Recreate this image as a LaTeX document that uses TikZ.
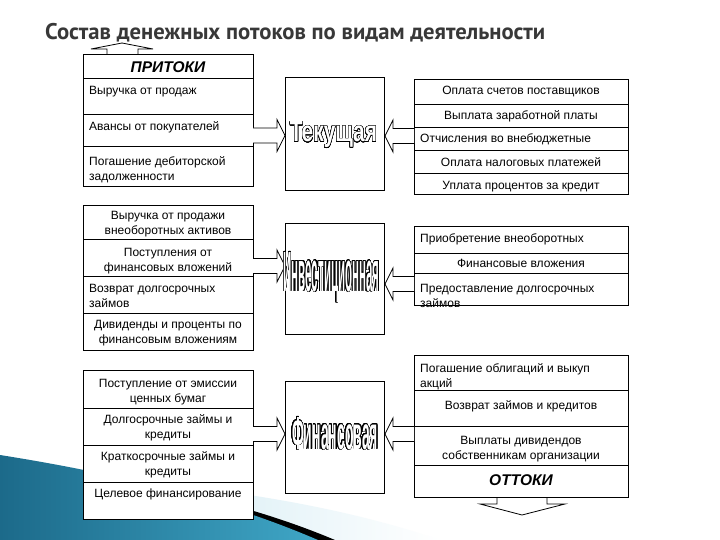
\documentclass[tikz,border=0pt]{standalone}
\usepackage{fontspec}
\setmainfont{Liberation Sans}
\newfontfamily\titlefont{PT Sans}
\usepackage{contour}
\contourlength{0.45pt}
\contournumber{24}
\usetikzlibrary{calc}
\definecolor{teal1}{HTML}{1C6A8A}
\definecolor{teal2}{HTML}{3FA6C6}
\definecolor{lblue}{HTML}{BFE2EE}
\newcommand{\sr}{\rule{0pt}{10pt}}
\newcommand{\outl}[3]{{\color{white}\contour{black}{\resizebox{#1}{#2}{\bfseries #3}}}}
\newcommand{\blkR}[3]{\draw[blk] (#1,{#3-7.5}) -- ({#2-8},{#3-7.5}) -- ({#2-8},{#3-16}) -- (#2,#3) -- ({#2-8},{#3+16}) -- ({#2-8},{#3+7.5}) -- (#1,{#3+7.5});}
\newcommand{\blkL}[3]{\draw[blk] (#1,{#3-7.5}) -- ({#2+8},{#3-7.5}) -- ({#2+8},{#3-16}) -- (#2,#3) -- ({#2+8},{#3+16}) -- ({#2+8},{#3+7.5}) -- (#1,{#3+7.5});}
\tikzset{
  bx/.style={draw, fill=white, line width=0.8pt, inner sep=0pt, anchor=north west},
  lrow/.style={bx, minimum width=170pt},
  rrow/.style={bx, minimum width=214pt},
  mid/.style={bx, minimum width=99pt},
  tl/.style={anchor=north west, inner sep=0pt, align=left, font=\fontsize{12}{15}\selectfont},
  tc/.style={anchor=north, inner sep=0pt, align=center, font=\fontsize{12}{15}\selectfont},
  hd/.style={inner sep=0pt, font=\fontsize{15.5}{15.5}\selectfont\bfseries\itshape},
  blk/.style={draw, fill=white, line width=0.8pt, line join=miter},
  thin/.style={draw, fill=white, line width=0.8pt},
}
\begin{document}
\begin{tikzpicture}[x=1pt,y=-1pt]
\useasboundingbox (0,0) rectangle (720,540);
\fill[white] (0,0) rectangle (720,540);
% background swoosh
\shade[left color=lblue, right color=white] (0,470) .. controls (140,480) and (300,492) .. (440,540) -- (0,540) -- cycle;
\fill[black] (0,462) .. controls (130,478) and (240,500) .. (335,540) -- (0,540) -- cycle;
\shade[left color=teal1, right color=teal2] (0,455) .. controls (120,474) and (225,500) .. (318,540) -- (0,540) -- cycle;
% arrows up / down
\draw[thin] (107,54) -- (107,49) -- (91,49) -- (122,43) -- (153,49) -- (138,49) -- (138,54);
\draw[thin] (497,497) -- (497,504) -- (480,504) -- (522,515) -- (565,504) -- (547,504) -- (547,497);
% title
\node[anchor=west, inner sep=0pt, text=black!78] (title) at (45,33) {\resizebox{500pt}{!}{\titlefont\bfseries Состав денежных потоков по видам деятельности}};
% left boxes
\node[lrow, minimum height=24pt] (a0) at (83,54) {};
\node[lrow, minimum height=36pt] (a1) at (83,78) {};
\node[lrow, minimum height=32pt] (a2) at (83,114) {};
\node[lrow, minimum height=40pt] (a3) at (83,146) {};
\node[lrow, minimum height=34pt] (b1) at (83,205) {};
\node[lrow, minimum height=37pt] (b2) at (83,239) {};
\node[lrow, minimum height=37pt] (b3) at (83,276) {};
\node[lrow, minimum height=37pt] (b4) at (83,313) {};
\node[lrow, minimum height=38pt] (c1) at (83,370) {};
\node[lrow, minimum height=37pt] (c2) at (83,408) {};
\node[lrow, minimum height=37pt] (c3) at (83,445) {};
\node[lrow, minimum height=37pt] (c4) at (83,482) {};
% right boxes
\node[rrow, minimum height=25pt] (d1) at (414,79) {};
\node[rrow, minimum height=23pt] (d2) at (414,104) {};
\node[rrow, minimum height=23pt] (d3) at (414,127) {};
\node[rrow, minimum height=23pt] (d4) at (414,150) {};
\node[rrow, minimum height=21pt] (d5) at (414,173) {};
\node[rrow, minimum height=27pt] (e1) at (414,226) {};
\node[rrow, minimum height=20pt] (e2) at (414,253) {};
\node[rrow, minimum height=32pt] (e3) at (414,273) {};
\node[rrow, minimum height=35pt] (f1) at (414,355) {};
\node[rrow, minimum height=36pt] (f2) at (414,390) {};
\node[rrow, minimum height=39pt] (f3) at (414,426) {};
\node[rrow, minimum height=32pt] (f4) at (414,465) {};
% middle boxes
\node[mid, minimum height=113pt] (m1) at (285,77) {};
\node[mid, minimum height=111pt] (m2) at (285,223) {};
\node[mid, minimum height=112pt] (m3) at (285,381) {};
% block arrows
\blkR{253}{285}{135.5}
\blkR{253}{285}{266}
\blkR{253}{285}{434}
\blkL{414}{385}{136}
\blkL{414}{385}{284}
\blkL{414}{385}{434}
% middle texts
\node[anchor=base, inner sep=0pt] (tt) at (333.5,142) {\outl{87pt}{20pt}{Текущая}};
\node[anchor=base, inner sep=0pt] (ti) at (331.5,291) {\outl{96pt}{39pt}{Инвестиционная}};
\node[anchor=base, inner sep=0pt] (tf) at (335,449) {\outl{86pt}{32pt}{Финансовая}};
% left texts
\node[hd] (pin) at (168,67) {ПРИТОКИ};
\node[tl] (ta1) at (89,84) {\sr Выручка от продаж};
\node[tl] (ta2) at (89,120) {\sr Авансы от покупателей};
\node[tl] (ta3) at (89,155) {\sr Погашение дебиторской\\задолженности};
\node[tc] (tb1) at (168,209) {\sr Выручка от продажи\\внеоборотных активов};
\node[tc] (tb2) at (168,246) {\sr Поступления от\\финансовых вложений};
\node[tl] (tb3) at (89,282) {\sr Возврат долгосрочных\\займов};
\node[tc] (tb4) at (168,318) {\sr Дивиденды и проценты по\\финансовым вложениям};
\node[tc] (tc1) at (168,377) {\sr Поступление от эмиссии\\ценных бумаг};
\node[tc] (tc2) at (168,413) {\sr Долгосрочные займы и\\кредиты};
\node[tc] (tc3) at (168,450) {\sr Краткосрочные займы и\\кредиты};
\node[tc] (tc4) at (168,487) {\sr Целевое финансирование};
% right texts
\node[tc] (td1) at (521,84) {\sr Оплата счетов поставщиков};
\node[tc] (td2) at (521,109) {\sr Выплата заработной платы};
\node[tl] (td3) at (420,132) {\sr Отчисления во внебюджетные};
\node[tc] (td4) at (521,156) {\sr Оплата налоговых платежей};
\node[tc] (td5) at (521,179) {\sr Уплата процентов за кредит};
\node[tl] (te1) at (420,232) {\sr Приобретение внеоборотных};
\node[tc] (te2) at (521,257) {\sr Финансовые вложения};
\node[tl] (te3) at (420,282) {\sr Предоставление долгосрочных\\займов};
\node[tl] (tf1) at (420,362) {\sr Погашение облигаций и выкуп\\акций};
\node[tc] (tf2) at (521,399) {\sr Возврат займов и кредитов};
\node[tc] (tf3) at (521,434) {\sr Выплаты дивидендов\\собственникам организации};
\node[hd] (pout) at (521,480) {ОТТОКИ};
\end{tikzpicture}
\end{document}
